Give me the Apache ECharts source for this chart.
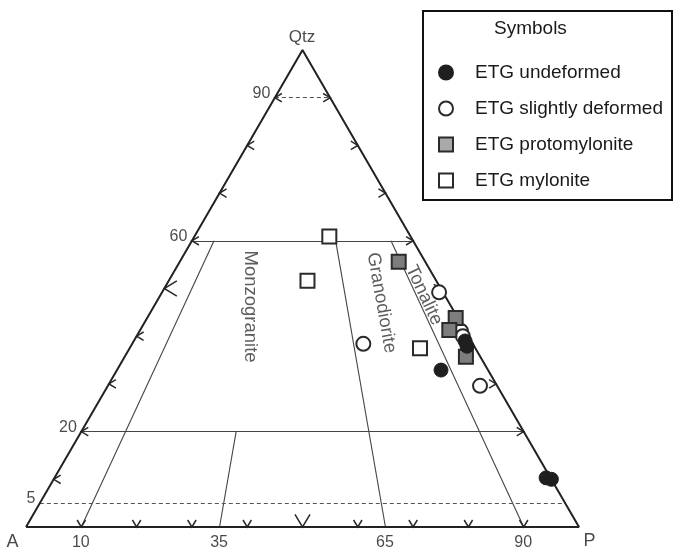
<!DOCTYPE html>
<html>
<head>
<meta charset="utf-8">
<script src="https://cdn.jsdelivr.net/npm/echarts@6/dist/echarts.min.js"></script>
<style>
  html, body { margin: 0; padding: 0; background: #ffffff; }
  #chart { width: 673px; height: 551px; }
</style>
</head>
<body>
<div id="chart"></div>
<script>
// Modal compositions of the ETG samples: [Qtz, A, P] in %
const etgUndeformed = [[39.0, 1.1, 59.9], [37.9, 1.3, 60.8], [32.9, 8.5, 58.6], [10.3, 0.8, 88.9], [10.0, 0.0, 90.0]];
const etgSlightlyDeformed = [[49.2, 0.7, 50.1], [38.4, 19.8, 41.8], [29.6, 3.1, 67.3], [41.1, 0.8, 58.1], [40.0, 1.0, 59.0]];
const etgProtomylonite = [[55.6, 4.8, 39.6], [43.8, 0.4, 55.8], [41.3, 2.8, 55.9], [35.7, 2.6, 61.7]];
const etgMylonite = [[60.9, 14.7, 24.4], [51.6, 23.3, 25.1], [37.5, 10.0, 52.5]];

const seriesNames = ['ETG undeformed', 'ETG slightly deformed', 'ETG protomylonite', 'ETG mylonite'];
const cornerNames = ['Qtz', 'A', 'P'];
const qtzLevels = [90, 60, 20, 5];          // Qtz lines, labelled on the A–Qtz side
const dashedLevels = [90, 5];
const plagRatios = [10, 35, 65, 90];        // 100·P/(A+P) boundaries, labelled on the A–P side
const plagRatioTop = [60, 20, 60, 60];      // Qtz value where each boundary ends
const fieldNames = ['Monzogranite', 'Granodiorite', 'Tonalite'];
const tickSteps = [10, 20, 30, 40, 50, 60, 70, 80, 90];

const FONT = '"Liberation Sans", Arial, Helvetica, sans-serif';

// ternary [Qtz, A, P] -> cartesian [x, y] (x = P + Qtz/2, y = Qtz), in %
function toXY(q, a, p) {
  const s = q + a + p;
  return [(p + q / 2) / s * 100, q / s * 100];
}
// point at a given Qtz on a given P/(A+P) ratio line
function onRatio(ratio, q) {
  const p = ratio / 100 * (100 - q);
  return toXY(q, 100 - q - p, p);
}

// field-boundary segments
const solidSegments = [];
const dashedSegments = [];
qtzLevels.forEach(function (q) {
  const seg = { coords: [toXY(q, 100 - q, 0), toXY(q, 0, 100 - q)] };
  (dashedLevels.indexOf(q) >= 0 ? dashedSegments : solidSegments).push(seg);
});
plagRatios.forEach(function (r, i) {
  solidSegments.push({ coords: [onRatio(r, 0), onRatio(r, plagRatioTop[i])] });
});

// arrow-head ticks: [x, y, side (0 left, 1 right, 2 base), big]
const chevrons = [];
tickSteps.forEach(function (t) {
  const big = t === 50 ? 1 : 0;
  chevrons.push(toXY(t, 100 - t, 0).concat([0, big]));
  chevrons.push(toXY(t, 0, 100 - t).concat([1, 0]));
  chevrons.push(toXY(0, 100 - t, t).concat([2, big]));
});

// text labels placed in ternary space
const textItems = [];
function addText(xy, text, cfg) {
  textItems.push({ value: xy, label: Object.assign({ show: true, formatter: text }, cfg) });
}
qtzLevels.forEach(function (q) {
  addText(toXY(q, 100 - q, 0), String(q), { position: [-4, -4], align: 'right', verticalAlign: 'middle' });
});
plagRatios.forEach(function (r) {
  addText(onRatio(r, 0), String(r), { position: [0, 16], align: 'center', verticalAlign: 'middle' });
});
addText(toXY(100, 0, 0), cornerNames[0], { position: [0, -12], align: 'center', verticalAlign: 'middle', fontSize: 17 });
addText(toXY(0, 100, 0), cornerNames[1], { position: [-13, 16], align: 'center', verticalAlign: 'middle', fontSize: 18 });
addText(toXY(0, 0, 100), cornerNames[2], { position: [11, 15], align: 'center', verticalAlign: 'middle', fontSize: 18 });

const fieldAnchors = [[46.1, 36.3, 17.6], [46.9, 12.2, 40.9], [48.5, 3.7, 47.8]];
const fieldRotate = [-90, -80, -65];
fieldNames.forEach(function (name, i) {
  const a = fieldAnchors[i];
  addText(toXY(a[0], a[1], a[2]), name, {
    position: [0, 0], align: 'center', verticalAlign: 'middle',
    rotate: fieldRotate[i], fontSize: 18.5, color: '#333'
  });
});

function samples(arr) { return arr.map(function (d) { return toXY(d[0], d[1], d[2]); }); }

const markerBorder = '#2a2a2a';
const chart = echarts.init(document.getElementById('chart'), null, { renderer: 'canvas' });

chart.setOption({
  backgroundColor: '#ffffff',
  animation: false,
  textStyle: { fontFamily: FONT },
  grid: { left: 26, top: 50, width: 553, height: 477 },
  xAxis: { type: 'value', min: 0, max: 100, show: false },
  yAxis: { type: 'value', min: 0, max: 100, show: false },
  title: {
    text: 'Symbols', left: 494, top: 19, padding: 0,
    textStyle: { fontFamily: FONT, fontSize: 19, fontWeight: 'normal', color: '#1a1a1a' }
  },
  legend: {
    data: [
      { name: seriesNames[0] },
      { name: seriesNames[1] },
      { name: seriesNames[2], itemStyle: { color: '#a9a9a9' } },
      { name: seriesNames[3] }
    ],
    orient: 'vertical', left: 438, top: 63, padding: 0,
    itemWidth: 14, itemHeight: 14, itemGap: 17,
    selectedMode: false,
    textStyle: { fontFamily: FONT, fontSize: 19, color: '#1a1a1a', padding: [0, 0, 0, 17] }
  },
  graphic: [{
    type: 'rect', z: 10,
    shape: { x: 423, y: 11, width: 249, height: 189 },
    style: { fill: null, stroke: '#111', lineWidth: 2 }
  }],
  series: [
    {
      type: 'line', silent: true, symbol: 'none', z: 3,
      data: [toXY(0, 100, 0), toXY(0, 0, 100), toXY(100, 0, 0), toXY(0, 100, 0)],
      lineStyle: { color: '#222', width: 2 }
    },
    {
      type: 'lines', coordinateSystem: 'cartesian2d', silent: true, z: 2,
      data: solidSegments,
      lineStyle: { color: '#444', width: 1.1, opacity: 1 }
    },
    {
      type: 'lines', coordinateSystem: 'cartesian2d', silent: true, z: 2,
      data: dashedSegments,
      lineStyle: { color: '#555', width: 1.1, type: [4, 3], opacity: 1 }
    },
    {
      type: 'custom', silent: true, z: 3,
      data: chevrons,
      renderItem: function (params, api) {
        const c = api.coord([api.value(0), api.value(1)]);
        const side = api.value(2);
        const k = api.value(3) ? 1.8 : 1;
        const l = 7 * k, w = 4.2 * k;
        let pts;
        if (side === 0) pts = [[c[0] + l, c[1] - w], c, [c[0] + l, c[1] + w]];
        else if (side === 1) pts = [[c[0] - l, c[1] - w], c, [c[0] - l, c[1] + w]];
        else pts = [[c[0] - w, c[1] - l], c, [c[0] + w, c[1] - l]];
        return { type: 'polyline', shape: { points: pts }, style: { stroke: '#2a2a2a', lineWidth: 1.5, fill: null } };
      }
    },
    {
      type: 'scatter', silent: true, z: 4,
      symbolSize: 1, itemStyle: { color: 'transparent' },
      label: { fontFamily: FONT, fontSize: 16, color: '#1a1a1a' },
      data: textItems
    },
    {
      name: seriesNames[0], type: 'scatter', z: 6,
      symbol: 'circle', symbolSize: 14,
      itemStyle: { color: '#1f1f1f', borderColor: '#1f1f1f', borderWidth: 1, opacity: 1 },
      data: samples(etgUndeformed)
    },
    {
      name: seriesNames[1], type: 'scatter', z: 5,
      symbol: 'circle', symbolSize: 14,
      itemStyle: { color: '#ffffff', borderColor: markerBorder, borderWidth: 2, opacity: 1 },
      data: samples(etgSlightlyDeformed)
    },
    {
      name: seriesNames[2], type: 'scatter', z: 5,
      symbol: 'rect', symbolSize: 14,
      itemStyle: { color: '#7d7d7d', borderColor: markerBorder, borderWidth: 2, opacity: 1 },
      data: samples(etgProtomylonite)
    },
    {
      name: seriesNames[3], type: 'scatter', z: 5,
      symbol: 'rect', symbolSize: 14,
      itemStyle: { color: '#ffffff', borderColor: markerBorder, borderWidth: 2, opacity: 1 },
      data: samples(etgMylonite)
    }
  ]
});
</script>
</body>
</html>
